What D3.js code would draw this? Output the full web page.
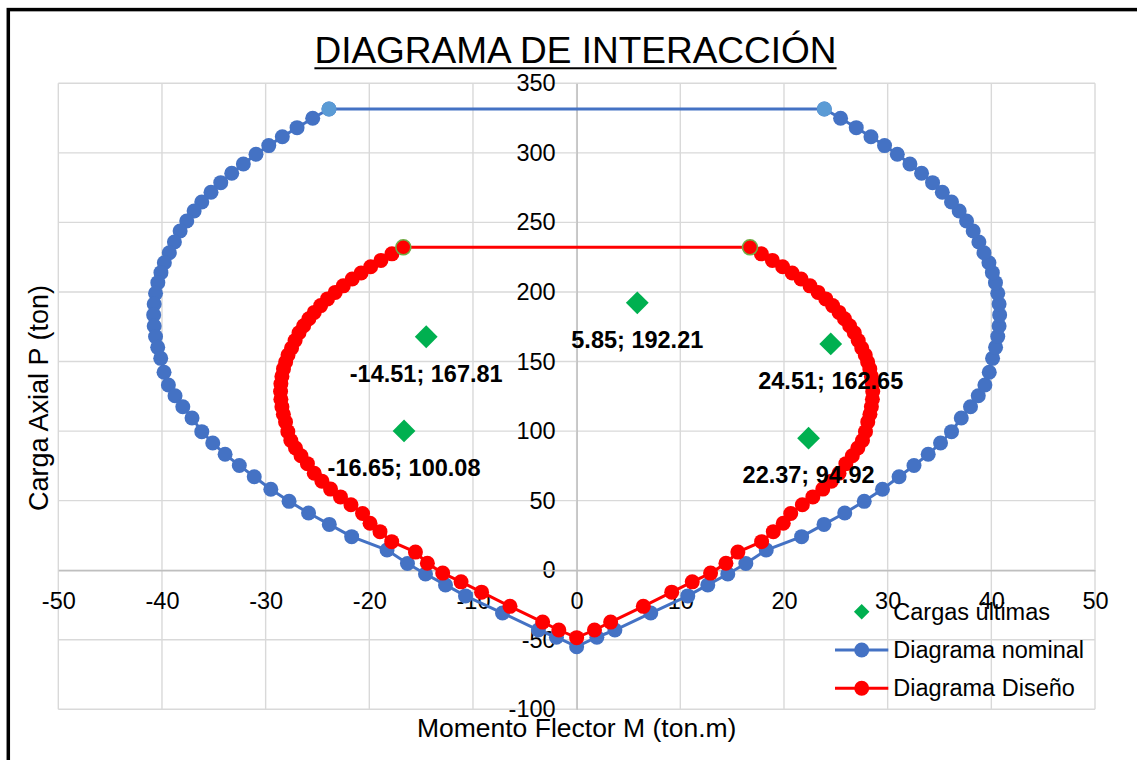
<!DOCTYPE html>
<html>
<head>
<meta charset="utf-8">
<script src="https://cdn.jsdelivr.net/npm/d3@7"></script>
<style>
  body { margin: 0; background: #fff; }
  svg { display: block; }
  text { font-family: "Liberation Sans", Arial, sans-serif; }
</style>
</head>
<body>
<svg id="chart" width="1137" height="760"></svg>
<script>
// Axis ticks
const xTicks = [-50, -40, -30, -20, -10, 0, 10, 20, 30, 40, 50];
const yTicks = [-100, -50, 0, 50, 100, 150, 200, 250, 300, 350];

// Factored loads (Mu, Pu)
const cargasM = [-14.51, 5.85, 24.51, -16.65, 22.37];
const cargasP = [167.81, 192.21, 162.65, 100.08, 94.92];

// Nominal interaction diagram: left branch top -> bottom, then right branch bottom -> top
const nominalM = [
  -23.89, -25.46, -26.97, -28.39, -29.70, -30.93, -32.15, -33.27, -34.33, -35.27,
  -36.16, -36.90, -37.61, -38.25, -38.80, -39.29, -39.77, -40.10, -40.40, -40.62,
  -40.75, -40.80, -40.75, -40.62, -40.41, -40.12, -39.80, -39.38, -38.74, -37.99,
  -37.10, -36.16, -35.10, -33.91, -32.54, -31.10, -29.50, -27.74, -25.86, -23.86,
  -21.70, -18.29, -16.32, -14.58, -12.65, -10.72, -7.15, -3.69, -1.95, 0.00,
  1.95, 3.69, 7.15, 10.72, 12.65, 14.58, 16.32, 18.29, 21.70, 23.86,
  25.86, 27.74, 29.50, 31.10, 32.54, 33.91, 35.10, 36.16, 37.10, 37.99,
  38.74, 39.38, 39.80, 40.12, 40.41, 40.62, 40.75, 40.80, 40.75, 40.62,
  40.40, 40.10, 39.77, 39.29, 38.80, 38.25, 37.61, 36.90, 36.16, 35.27,
  34.33, 33.27, 32.15, 30.93, 29.70, 28.39, 26.97, 25.46, 23.89
];
const nominalP = [
  331.5, 324.9, 318.1, 311.6, 305.2, 299.0, 292.0, 285.3, 278.6, 271.7,
  264.7, 258.2, 251.0, 243.8, 235.9, 228.2, 221.0, 213.9, 206.7, 199.0,
  191.4, 183.5, 175.5, 167.9, 160.2, 152.3, 142.3, 133.1, 125.4, 117.5,
  109.4, 99.6, 91.4, 83.3, 75.3, 67.2, 58.2, 49.5, 41.1, 32.9,
  24.1, 14.5, 4.8, -2.7, -10.6, -18.5, -30.8, -43.0, -48.2, -55.0,
  -48.2, -43.0, -30.8, -18.5, -10.6, -2.7, 4.8, 14.5, 24.1, 32.9,
  41.1, 49.5, 58.2, 67.2, 75.3, 83.3, 91.4, 99.6, 109.4, 117.5,
  125.4, 133.1, 142.3, 152.3, 160.2, 167.9, 175.5, 183.5, 191.4, 199.0,
  206.7, 213.9, 221.0, 228.2, 235.9, 243.8, 251.0, 258.2, 264.7, 271.7,
  278.6, 285.3, 292.0, 299.0, 305.2, 311.6, 318.1, 324.9, 331.5
];

// Design interaction diagram (reduced strength), same ordering
const disenoM = [
  -16.72, -17.82, -18.88, -19.87, -20.79, -21.65, -22.51, -23.29, -24.03, -24.69,
  -25.31, -25.83, -26.33, -26.78, -27.16, -27.50, -27.84, -28.07, -28.28, -28.43,
  -28.53, -28.56, -28.53, -28.43, -28.29, -28.08, -27.86, -27.57, -27.12, -26.59,
  -25.97, -25.31, -24.57, -23.74, -22.78, -21.77, -20.65, -19.93, -18.97, -17.84,
  -15.55, -14.40, -12.92, -11.15, -9.17, -6.43, -3.28, -1.72, 0.00,
  1.72, 3.28, 6.43, 9.17, 11.15, 12.92, 14.40, 15.55, 17.84, 18.97,
  19.93, 20.65, 21.77, 22.78, 23.74, 24.57, 25.31, 25.97, 26.59, 27.12,
  27.57, 27.86, 28.08, 28.29, 28.43, 28.53, 28.56, 28.53, 28.43, 28.28,
  28.07, 27.84, 27.50, 27.16, 26.78, 26.33, 25.83, 25.31, 24.69, 24.03,
  23.29, 22.51, 21.65, 20.79, 19.87, 18.88, 17.82, 16.72
];
const disenoP = [
  232.1, 227.4, 222.7, 218.1, 213.6, 209.3, 204.4, 199.7, 195.0, 190.2,
  185.3, 180.7, 175.7, 170.7, 165.1, 159.7, 154.7, 149.7, 144.7, 139.3,
  134.0, 128.5, 122.9, 117.5, 112.1, 106.6, 99.6, 93.2, 87.8, 82.3,
  76.6, 69.7, 64.0, 58.3, 52.7, 47.0, 40.7, 33.7, 27.7, 20.5,
  13.0, 5.0, -2.1, -8.4, -15.8, -26.0, -37.3, -43.0, -48.5,
  -43.0, -37.3, -26.0, -15.8, -8.4, -2.1, 5.0, 13.0, 20.5, 27.7,
  33.7, 40.7, 47.0, 52.7, 58.3, 64.0, 69.7, 76.6, 82.3, 87.8,
  93.2, 99.6, 106.6, 112.1, 117.5, 122.9, 128.5, 134.0, 139.3, 144.7,
  149.7, 154.7, 159.7, 165.1, 170.7, 175.7, 180.7, 185.3, 190.2, 195.0,
  199.7, 204.4, 209.3, 213.6, 218.1, 222.7, 227.4, 232.1
];

const seriesNames = ["Cargas últimas", "Diagrama nominal", "Diagrama Diseño"];

const svg = d3.select("#chart");
const FONT = 23.5;
const R = 7.5;
const plain = d => String(d); // hyphen-minus for negatives

// Outer chart frame
svg.append("rect")
  .attr("x", 8.3).attr("y", 9.6).attr("width", 1160).attr("height", 800)
  .attr("fill", "none").attr("stroke", "#000").attr("stroke-width", 3.5);

const x = d3.scaleLinear().domain([-50, 50]).range([58.3, 1095]);
const y = d3.scaleLinear().domain([-100, 350]).range([709.3, 83.3]);

// Gridlines
const grid = svg.append("g").attr("stroke", "#d9d9d9").attr("stroke-width", 1.4);
grid.selectAll("line.v").data(xTicks).join("line")
  .attr("x1", d => x(d)).attr("x2", d => x(d))
  .attr("y1", y(-100)).attr("y2", y(350));
grid.selectAll("line.h").data(yTicks).join("line")
  .attr("y1", d => y(d)).attr("y2", d => y(d))
  .attr("x1", x(-50)).attr("x2", x(50));

// Axes crossing at the origin
const yAxis = svg.append("g")
  .attr("transform", `translate(${x(0)},0)`)
  .call(d3.axisLeft(y).tickValues(yTicks).tickFormat(plain).tickSize(0).tickPadding(21));
const xAxis = svg.append("g")
  .attr("transform", `translate(0,${y(0)})`)
  .call(d3.axisBottom(x).tickValues(xTicks).tickFormat(plain).tickSize(0).tickPadding(22.5));
[xAxis, yAxis].forEach(a => {
  a.select(".domain").attr("stroke", "#bfbfbf").attr("stroke-width", 1.4);
  a.selectAll("text").attr("font-size", FONT).attr("fill", "#000")
    .style("font-family", '"Liberation Sans", Arial, sans-serif');
});

// Title
const title = svg.append("text")
  .attr("x", 575.5).attr("y", 63).attr("text-anchor", "middle")
  .attr("font-size", 37).attr("fill", "#000")
  .text("DIAGRAMA DE INTERACCIÓN");
const tb = title.node().getBBox();
svg.append("line")
  .attr("x1", tb.x).attr("x2", tb.x + tb.width)
  .attr("y1", 68.3).attr("y2", 68.3)
  .attr("stroke", "#000").attr("stroke-width", 2);

// Axis titles
svg.append("text")
  .attr("x", x(0)).attr("y", 737).attr("text-anchor", "middle")
  .attr("font-size", 26.5).attr("fill", "#000")
  .text("Momento Flector M (ton.m)");
svg.append("text")
  .attr("transform", "translate(48,398) rotate(-90)")
  .attr("text-anchor", "middle")
  .attr("font-size", 27).attr("fill", "#000")
  .text("Carga Axial P (ton)");

const line = d3.line().x(d => x(d[0])).y(d => y(d[1]));
const nominal = nominalM.map((m, i) => [m, nominalP[i]]);
const diseno = disenoM.map((m, i) => [m, disenoP[i]]);
const cargas = cargasM.map((m, i) => [m, cargasP[i]]);

const diamond = d3.symbol().type(d3.symbolSquare).size(260);

// Factored loads
svg.append("g").selectAll("path").data(cargas).join("path")
  .attr("d", diamond)
  .attr("transform", d => `translate(${x(d[0])},${y(d[1])}) rotate(45)`)
  .attr("fill", "#00b050");

// Nominal diagram
svg.append("path").attr("d", line(nominal.concat([nominal[0]])))
  .attr("fill", "none").attr("stroke", "#4472c4").attr("stroke-width", 3);
svg.append("g").selectAll("circle").data(nominal).join("circle")
  .attr("cx", d => x(d[0])).attr("cy", d => y(d[1])).attr("r", R)
  .attr("fill", "#4472c4");
svg.append("g").selectAll("circle").data([nominal[0], nominal[nominal.length - 1]]).join("circle")
  .attr("cx", d => x(d[0])).attr("cy", d => y(d[1])).attr("r", R)
  .attr("fill", "#5b9bd5");

// Design diagram
svg.append("path").attr("d", line(diseno.concat([diseno[0]])))
  .attr("fill", "none").attr("stroke", "#ff0000").attr("stroke-width", 3);
svg.append("g").selectAll("circle").data(diseno).join("circle")
  .attr("cx", d => x(d[0])).attr("cy", d => y(d[1])).attr("r", R)
  .attr("fill", "#ff0000");
svg.append("g").selectAll("circle").data([diseno[0], diseno[diseno.length - 1]]).join("circle")
  .attr("cx", d => x(d[0])).attr("cy", d => y(d[1])).attr("r", R)
  .attr("fill", "#ff0000").attr("stroke", "#70ad47").attr("stroke-width", 1.6);

// Data labels for the factored loads
svg.append("g").selectAll("text").data(cargas).join("text")
  .attr("x", d => x(d[0])).attr("y", d => y(d[1]) + 37)
  .attr("text-anchor", "middle").attr("dominant-baseline", "central")
  .attr("font-size", FONT).attr("font-weight", "bold").attr("fill", "#000")
  .text(d => `${d[0].toFixed(2)}; ${d[1].toFixed(2)}`);

// Legend
const legendY = [611.7, 650, 688.3];
const lg = svg.append("g");
lg.append("path").attr("d", diamond.size(120)())
  .attr("transform", `translate(861.7,${legendY[0]}) rotate(45)`)
  .attr("fill", "#00b050");
[["#4472c4", legendY[1]], ["#ff0000", legendY[2]]].forEach(([c, ly]) => {
  lg.append("line").attr("x1", 835).attr("x2", 888.3).attr("y1", ly).attr("y2", ly)
    .attr("stroke", c).attr("stroke-width", 3);
  lg.append("circle").attr("cx", 861.7).attr("cy", ly).attr("r", R).attr("fill", c);
});
lg.selectAll("text").data(seriesNames).join("text")
  .attr("x", 893.3).attr("y", (d, i) => legendY[i])
  .attr("dominant-baseline", "central")
  .attr("font-size", FONT).attr("fill", "#000")
  .text(d => d);
</script>
</body>
</html>
